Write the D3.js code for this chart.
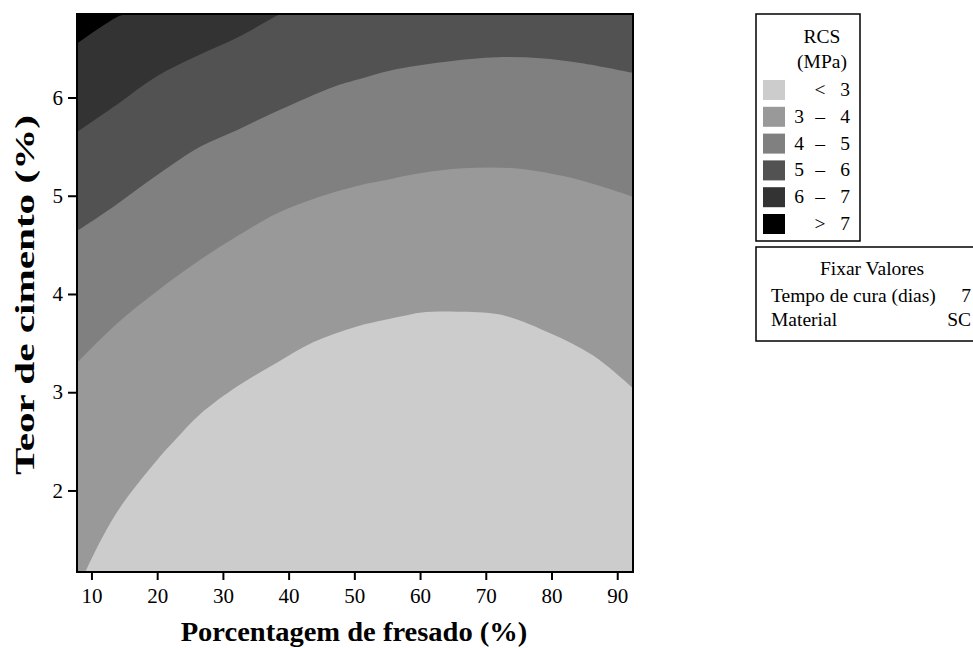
<!DOCTYPE html>
<html>
<head>
<meta charset="utf-8">
<script src="https://cdn.jsdelivr.net/npm/d3@7"></script>
<style>
  body { margin: 0; background: #fff; }
  svg { display: block; font-family: "Liberation Serif", "Times New Roman", serif; }
</style>
</head>
<body>
<svg width="973" height="648"></svg>
<script>
// contour boundaries: [fresado %, cimento %]
const c3 = [[7.8, 0.95], [9.1, 1.175], [13.9, 1.78], [20.0, 2.31], [23.5, 2.57], [26.6, 2.78], [32.2, 3.06], [38.2, 3.30], [43.8, 3.51], [49.9, 3.66], [57.0, 3.77], [60.0, 3.81], [65.6, 3.82], [72.2, 3.79], [79.8, 3.60], [86.4, 3.37], [92.4, 3.04]];
const c4 = [[7.8, 3.30], [13.9, 3.70], [20.0, 4.03], [26.6, 4.35], [32.2, 4.59], [38.2, 4.82], [44.3, 4.98], [50.4, 5.10], [54.0, 5.15], [60.0, 5.23], [66.6, 5.28], [74.2, 5.28], [81.8, 5.20], [86.9, 5.11], [92.4, 4.99]];
const c5 = [[7.8, 4.64], [13.4, 4.89], [20.0, 5.21], [26.6, 5.50], [32.2, 5.67], [38.2, 5.86], [46.9, 6.11], [50.4, 6.18], [56.5, 6.29], [64.6, 6.37], [71.7, 6.41], [78.3, 6.40], [84.4, 6.35], [92.4, 6.25]];
const c6 = [[7.8, 5.65], [13.9, 5.93], [20.0, 6.22], [26.6, 6.44], [32.2, 6.61], [38.7, 6.85], [42.0, 6.95]];
const c7 = [[7.8, 6.55], [13.9, 6.82], [15.2, 6.85], [17.0, 6.90]];

const bandLabels = [["", "<", "3"], ["3", "–", "4"], ["4", "–", "5"], ["5", "–", "6"], ["6", "–", "7"], ["", ">", "7"]];
const bandColors = ["#cccccc", "#999999", "#808080", "#525252", "#333333", "#000000"];
const boundaries = [c3, c4, c5, c6, c7];

const xTicks = [10, 20, 30, 40, 50, 60, 70, 80, 90];
const yTicks = [2, 3, 4, 5, 6];
const fixedRows = [["Tempo de cura (dias)", "7"], ["Material", "SC"]];

const svg = d3.select("svg");
const pLeft = 77, pRight = 633, pTop = 14, pBottom = 572;

const x = d3.scaleLinear().domain([7.8, 92.4]).range([pLeft, pRight]);
const y = d3.scaleLinear().domain([1.17, 6.85]).range([pBottom, pTop]);

svg.append("clipPath").attr("id", "plot")
  .append("rect").attr("x", pLeft).attr("y", pTop)
  .attr("width", pRight - pLeft).attr("height", pBottom - pTop);

const g = svg.append("g").attr("clip-path", "url(#plot)");

// lowest band fills the whole area
g.append("rect")
  .attr("x", pLeft).attr("y", pTop)
  .attr("width", pRight - pLeft).attr("height", pBottom - pTop)
  .attr("fill", bandColors[0]);

// each higher band: from its boundary up to the top
const area = d3.area()
  .x(d => x(d[0]))
  .y0(d => y(d[1]))
  .y1(pTop - 20)
  .curve(d3.curveCatmullRom);

boundaries.forEach((b, i) => {
  g.append("path")
    .attr("d", area(b))
    .attr("fill", bandColors[i + 1]);
});

// frame
svg.append("rect")
  .attr("x", pLeft).attr("y", pTop)
  .attr("width", pRight - pLeft).attr("height", pBottom - pTop)
  .attr("fill", "none").attr("stroke", "#000").attr("stroke-width", 2);

// axes
const xAxis = svg.append("g")
  .attr("transform", `translate(0,${pBottom})`)
  .call(d3.axisBottom(x).tickValues(xTicks).tickSize(8).tickPadding(8));
const yAxis = svg.append("g")
  .attr("transform", `translate(${pLeft},0)`)
  .call(d3.axisLeft(y).tickValues(yTicks).tickFormat(d3.format("d")).tickSize(9).tickPadding(5));

[xAxis, yAxis].forEach(a => {
  a.attr("font-family", "Liberation Serif").attr("font-size", 21);
  a.select(".domain").remove();
  a.selectAll(".tick line").attr("stroke", "#000").attr("stroke-width", 2);
  a.selectAll(".tick text").attr("fill", "#000");
});

// axis titles, stretched along their length to the reference span
function stretched(parent, cx, cy, rot, span, label) {
  const t = parent.append("text")
    .attr("text-anchor", "middle")
    .attr("font-size", 27).attr("font-weight", "bold")
    .text(label);
  const k = span / t.node().getComputedTextLength();
  t.attr("transform", `translate(${cx},${cy}) rotate(${rot}) scale(${k},1)`);
}
stretched(svg, 354, 641, 0, 347, "Porcentagem de fresado (%)");
stretched(svg, 34, 295, -90, 360, "Teor de cimento (%)");

// legend
const lg = svg.append("g");
lg.append("rect")
  .attr("x", 756).attr("y", 14).attr("width", 104).attr("height", 227)
  .attr("fill", "#fff").attr("stroke", "#000").attr("stroke-width", 1.5);
lg.append("text").attr("x", 822).attr("y", 43).attr("text-anchor", "middle")
  .attr("font-size", 19.5).text("RCS");
lg.append("text").attr("x", 822).attr("y", 68).attr("text-anchor", "middle")
  .attr("font-size", 19.5).text("(MPa)");

bandLabels.forEach((lab, i) => {
  const ry = 80 + i * 26.8;
  lg.append("rect")
    .attr("x", 763).attr("y", ry).attr("width", 22).attr("height", 20)
    .attr("fill", bandColors[i]);
  [799, 820, 845].forEach((cx, j) => {
    lg.append("text").attr("x", cx).attr("y", ry + 16)
      .attr("text-anchor", "middle").attr("font-size", 19.5)
      .text(lab[j]);
  });
});

const fg = svg.append("g");
fg.append("rect")
  .attr("x", 756).attr("y", 247).attr("width", 240).attr("height", 94)
  .attr("fill", "#fff").attr("stroke", "#000").attr("stroke-width", 1.5);
fg.append("text").attr("x", 872).attr("y", 275).attr("text-anchor", "middle")
  .attr("font-size", 19.5).text("Fixar Valores");
fixedRows.forEach((r, i) => {
  fg.append("text").attr("x", 771).attr("y", 302 + i * 24)
    .attr("font-size", 19.5).text(r[0]);
  fg.append("text").attr("x", 971).attr("y", 302 + i * 24)
    .attr("text-anchor", "end")
    .attr("font-size", 19.5).text(r[1]);
});
</script>
</body>
</html>
